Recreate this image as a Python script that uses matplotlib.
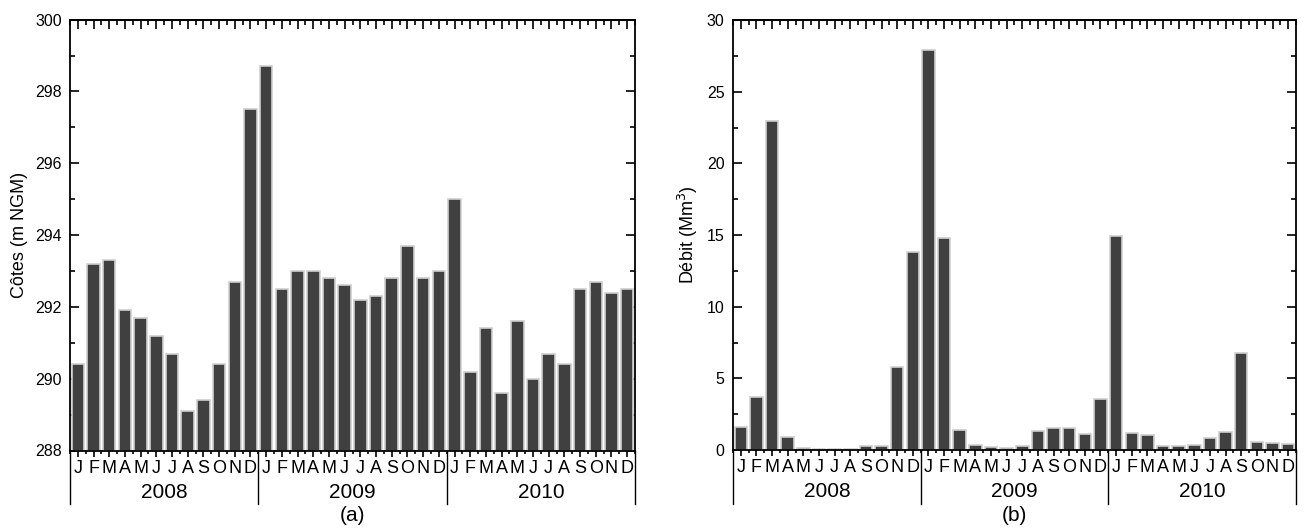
import matplotlib
matplotlib.use("Agg")
import matplotlib.pyplot as plt
from matplotlib.ticker import MultipleLocator
import numpy as np

plt.rcParams['font.family'] = ['Liberation Sans', 'DejaVu Sans']

months = ["J", "F", "M", "A", "M", "J", "J", "A", "S", "O", "N", "D"]
years = ["2008", "2009", "2010"]

# Monthly water level (m NGM), Jan 2008 - Dec 2010
cotes = [290.4, 293.2, 293.3, 291.9, 291.7, 291.2, 290.7, 289.1, 289.4, 290.4, 292.7, 297.5,
         298.7, 292.5, 293.0, 293.0, 292.8, 292.6, 292.2, 292.3, 292.8, 293.7, 292.8, 293.0,
         295.0, 290.2, 291.4, 289.6, 291.6, 290.0, 290.7, 290.4, 292.5, 292.7, 292.4, 292.5]

# Monthly discharge (Mm3), Jan 2008 - Dec 2010
debit = [1.6, 3.7, 22.95, 0.9, 0.12, 0.05, 0.05, 0.1, 0.3, 0.25, 5.8, 13.8,
         27.95, 14.8, 1.4, 0.35, 0.2, 0.12, 0.3, 1.3, 1.55, 1.5, 1.1, 3.55,
         14.9, 1.15, 1.05, 0.25, 0.28, 0.35, 0.87, 1.23, 6.75, 0.54, 0.47, 0.4]

BAR = '#404040'
EDGE = '#cfcfcf'

fig = plt.figure(figsize=(13.08, 5.30), dpi=100)
ax_a = fig.add_axes([0.0535, 0.150, 0.4320, 0.813])
ax_b = fig.add_axes([0.5604, 0.151, 0.4304, 0.811])


def draw_panel(ax, values, ylim, major, minor, ylabel, caption):
    n = len(values)
    x = np.arange(1, n + 1)
    base = ylim[0]
    heights = np.array(values) - base
    ax.bar(x, heights, bottom=base, width=0.8, color=BAR, edgecolor=EDGE,
           linewidth=1.2, zorder=2)
    ax.set_xlim(0.5, n + 0.5)
    ax.set_ylim(*ylim)

    for sp in ax.spines.values():
        sp.set_linewidth(1.3)
        sp.set_zorder(3)

    # y axis: inward ticks on both sides
    ax.yaxis.set_major_locator(MultipleLocator(major))
    ax.yaxis.set_minor_locator(MultipleLocator(minor))
    ax.tick_params(axis='y', which='both', direction='in', left=True, right=True,
                   labelsize=11.5, pad=6, width=1.2)
    ax.tick_params(axis='y', which='major', length=6.5)
    ax.tick_params(axis='y', which='minor', length=3.5)
    ax.set_ylabel(ylabel, fontsize=13, labelpad=5)

    # bottom axis: outward ticks with month initials
    ax.set_xticks(x)
    ax.set_xticklabels(months * (n // 12))
    ax.set_xticks(np.arange(0.5, n + 1, 1.0), minor=True)
    ax.tick_params(axis='x', which='both', direction='out', bottom=True, top=False,
                   labelsize=13, pad=2.5, width=1.2)
    ax.tick_params(axis='x', which='major', length=4)
    ax.tick_params(axis='x', which='minor', length=2.5)

    # top axis: inward ticks, no labels
    top = ax.secondary_xaxis('top')
    top.set_xticks(x)
    top.set_xticks(np.arange(0.5, n + 1, 1.0), minor=True)
    top.tick_params(axis='x', which='both', direction='in', labeltop=False, width=1.2)
    top.tick_params(axis='x', which='major', length=6.5)
    top.tick_params(axis='x', which='minor', length=3.5)
    top.spines['top'].set_linewidth(1.3)

    # year groups with separators below the axis
    trans = ax.get_xaxis_transform()
    for k in range(len(years) + 1):
        xb = 0.5 + 12 * k
        ax.plot([xb, xb], [0, -0.125], transform=trans, color='black',
                linewidth=1.0, clip_on=False)
    for k, yr in enumerate(years):
        ax.text(6.5 + 12 * k, -0.097, yr, transform=trans, ha='center', va='center',
                fontsize=15)
    ax.text(0.5, -0.152, caption, transform=ax.transAxes, ha='center', va='center',
            fontsize=15)


draw_panel(ax_a, cotes, (288, 300), 2, 1, "Côtes (m NGM)", "(a)")
draw_panel(ax_b, debit, (0, 30), 5, 2.5, "Débit (Mm$^3$)", "(b)")

fig.savefig("out.png", dpi=100)
